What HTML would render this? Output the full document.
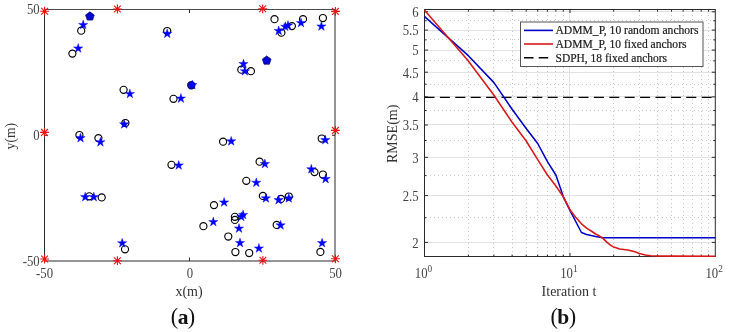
<!DOCTYPE html><html><head><meta charset="utf-8"><style>
html,body{margin:0;padding:0;background:#fff;}
body{width:729px;height:332px;overflow:hidden;}
svg{display:block;will-change:transform;}
text{font-family:"Liberation Serif",serif;fill:#333;}
</style></head><body>
<svg width="729" height="332" viewBox="0 0 729 332">
<rect width="729" height="332" fill="#fff"/>
<path d="M44.5,261.0V9.5" stroke="#2a2a2a" stroke-width="1" fill="none"/>
<path d="M44.0,9.5H335.5" stroke="#4a4a4a" stroke-width="1" fill="none"/>
<path d="M335.0,9.5V261.0" stroke="#2a2a2a" stroke-width="1" fill="none"/>
<path d="M44.0,261.0H335.5" stroke="#2a2a2a" stroke-width="1" fill="none"/>
<path d="M189.5,261.0v-3.5M189.5,9.5v3.5M44.5,135.3h3M335.0,135.3h-3" stroke="#2a2a2a" stroke-width="1" fill="none"/>
<circle cx="191.3" cy="85.3" r="3.6" fill="#1818c0" stroke="#0a0a50" stroke-width="1.2"/>
<g fill="none" stroke="#000" stroke-width="1.15"><circle cx="81.2" cy="30.7" r="3.55"/><circle cx="72.4" cy="53.6" r="3.55"/><circle cx="167.2" cy="31" r="3.55"/><circle cx="123.6" cy="89.8" r="3.55"/><circle cx="125.4" cy="123.0" r="3.55"/><circle cx="79.4" cy="135" r="3.55"/><circle cx="98.4" cy="138.1" r="3.55"/><circle cx="173.5" cy="98.8" r="3.55"/><circle cx="274.5" cy="19.2" r="3.55"/><circle cx="303" cy="19.2" r="3.55"/><circle cx="322.9" cy="18" r="3.55"/><circle cx="291.9" cy="26.1" r="3.55"/><circle cx="281.4" cy="32.7" r="3.55"/><circle cx="250.9" cy="71.2" r="3.55"/><circle cx="241.3" cy="69.7" r="3.55"/><circle cx="223.1" cy="141.7" r="3.55"/><circle cx="171.5" cy="164.8" r="3.55"/><circle cx="321.7" cy="138.5" r="3.55"/><circle cx="259.6" cy="161.7" r="3.55"/><circle cx="314.5" cy="172.1" r="3.55"/><circle cx="322.9" cy="174.5" r="3.55"/><circle cx="89.3" cy="196.3" r="3.55"/><circle cx="101.7" cy="197.4" r="3.55"/><circle cx="125" cy="249.3" r="3.55"/><circle cx="214" cy="205.1" r="3.55"/><circle cx="203.4" cy="226.2" r="3.55"/><circle cx="234.9" cy="216.8" r="3.55"/><circle cx="234.9" cy="219.9" r="3.55"/><circle cx="228.3" cy="236.5" r="3.55"/><circle cx="235.4" cy="252" r="3.55"/><circle cx="249.2" cy="253" r="3.55"/><circle cx="246.3" cy="180.8" r="3.55"/><circle cx="262.9" cy="195.9" r="3.55"/><circle cx="281" cy="198.9" r="3.55"/><circle cx="288.8" cy="196.5" r="3.55"/><circle cx="276.7" cy="224.9" r="3.55"/><circle cx="320.4" cy="251.9" r="3.55"/></g>
<path d="M89.90,11.80L94.27,14.98L92.60,20.12L87.20,20.12L85.53,14.98ZM266.70,55.90L271.07,59.08L269.40,64.22L264.00,64.22L262.33,59.08Z" fill="#0a0aa8" stroke="#080880" stroke-width="0.7"/>
<path d="M89.90,11.90L90.91,15.01L94.18,15.01L91.53,16.93L92.55,20.04L89.90,18.12L87.25,20.04L88.27,16.93L85.62,15.01L88.89,15.01ZM266.70,56.00L267.71,59.11L270.98,59.11L268.33,61.03L269.35,64.14L266.70,62.22L264.05,64.14L265.07,61.03L262.42,59.11L265.69,59.11Z" fill="#0000e6"/>
<path d="M83.20,20.00L84.30,23.39L87.86,23.39L84.98,25.48L86.08,28.86L83.20,26.77L80.32,28.86L81.42,25.48L78.54,23.39L82.10,23.39ZM78.20,43.50L79.30,46.89L82.86,46.89L79.98,48.98L81.08,52.36L78.20,50.27L75.32,52.36L76.42,48.98L73.54,46.89L77.10,46.89ZM167.20,28.80L168.30,32.19L171.86,32.19L168.98,34.28L170.08,37.66L167.20,35.57L164.32,37.66L165.42,34.28L162.54,32.19L166.10,32.19ZM129.90,89.00L131.00,92.39L134.56,92.39L131.68,94.48L132.78,97.86L129.90,95.77L127.02,97.86L128.12,94.48L125.24,92.39L128.80,92.39ZM124.20,119.40L125.30,122.79L128.86,122.79L125.98,124.88L127.08,128.26L124.20,126.17L121.32,128.26L122.42,124.88L119.54,122.79L123.10,122.79ZM80.50,133.20L81.60,136.59L85.16,136.59L82.28,138.68L83.38,142.06L80.50,139.97L77.62,142.06L78.72,138.68L75.84,136.59L79.40,136.59ZM100.40,137.30L101.50,140.69L105.06,140.69L102.18,142.78L103.28,146.16L100.40,144.07L97.52,146.16L98.62,142.78L95.74,140.69L99.30,140.69ZM180.90,93.60L182.00,96.99L185.56,96.99L182.68,99.08L183.78,102.46L180.90,100.37L178.02,102.46L179.12,99.08L176.24,96.99L179.80,96.99ZM192.30,80.20L193.40,83.59L196.96,83.59L194.08,85.68L195.18,89.06L192.30,86.97L189.42,89.06L190.52,85.68L187.64,83.59L191.20,83.59ZM321.40,21.50L322.50,24.89L326.06,24.89L323.18,26.98L324.28,30.36L321.40,28.27L318.52,30.36L319.62,26.98L316.74,24.89L320.30,24.89ZM301.00,18.10L302.10,21.49L305.66,21.49L302.78,23.58L303.88,26.96L301.00,24.87L298.12,26.96L299.22,23.58L296.34,21.49L299.90,21.49ZM288.00,20.60L289.10,23.99L292.66,23.99L289.78,26.08L290.88,29.46L288.00,27.37L285.12,29.46L286.22,26.08L283.34,23.99L286.90,23.99ZM285.30,21.80L286.40,25.19L289.96,25.19L287.08,27.28L288.18,30.66L285.30,28.57L282.42,30.66L283.52,27.28L280.64,25.19L284.20,25.19ZM278.70,26.00L279.80,29.39L283.36,29.39L280.48,31.48L281.58,34.86L278.70,32.77L275.82,34.86L276.92,31.48L274.04,29.39L277.60,29.39ZM243.50,59.10L244.60,62.49L248.16,62.49L245.28,64.58L246.38,67.96L243.50,65.87L240.62,67.96L241.72,64.58L238.84,62.49L242.40,62.49ZM244.90,66.30L246.00,69.69L249.56,69.69L246.68,71.78L247.78,75.16L244.90,73.07L242.02,75.16L243.12,71.78L240.24,69.69L243.80,69.69ZM231.20,136.40L232.30,139.79L235.86,139.79L232.98,141.88L234.08,145.26L231.20,143.17L228.32,145.26L229.42,141.88L226.54,139.79L230.10,139.79ZM178.70,160.50L179.80,163.89L183.36,163.89L180.48,165.98L181.58,169.36L178.70,167.27L175.82,169.36L176.92,165.98L174.04,163.89L177.60,163.89ZM325.30,135.20L326.40,138.59L329.96,138.59L327.08,140.68L328.18,144.06L325.30,141.97L322.42,144.06L323.52,140.68L320.64,138.59L324.20,138.59ZM264.90,159.10L266.00,162.49L269.56,162.49L266.68,164.58L267.78,167.96L264.90,165.87L262.02,167.96L263.12,164.58L260.24,162.49L263.80,162.49ZM311.30,164.30L312.40,167.69L315.96,167.69L313.08,169.78L314.18,173.16L311.30,171.07L308.42,173.16L309.52,169.78L306.64,167.69L310.20,167.69ZM325.60,174.10L326.70,177.49L330.26,177.49L327.38,179.58L328.48,182.96L325.60,180.87L322.72,182.96L323.82,179.58L320.94,177.49L324.50,177.49ZM85.20,192.20L86.30,195.59L89.86,195.59L86.98,197.68L88.08,201.06L85.20,198.97L82.32,201.06L83.42,197.68L80.54,195.59L84.10,195.59ZM93.80,192.20L94.90,195.59L98.46,195.59L95.58,197.68L96.68,201.06L93.80,198.97L90.92,201.06L92.02,197.68L89.14,195.59L92.70,195.59ZM122.20,238.30L123.30,241.69L126.86,241.69L123.98,243.78L125.08,247.16L122.20,245.07L119.32,247.16L120.42,243.78L117.54,241.69L121.10,241.69ZM224.10,197.50L225.20,200.89L228.76,200.89L225.88,202.98L226.98,206.36L224.10,204.27L221.22,206.36L222.32,202.98L219.44,200.89L223.00,200.89ZM213.30,217.10L214.40,220.49L217.96,220.49L215.08,222.58L216.18,225.96L213.30,223.87L210.42,225.96L211.52,222.58L208.64,220.49L212.20,220.49ZM243.10,210.00L244.20,213.39L247.76,213.39L244.88,215.48L245.98,218.86L243.10,216.77L240.22,218.86L241.32,215.48L238.44,213.39L242.00,213.39ZM241.30,211.90L242.40,215.29L245.96,215.29L243.08,217.38L244.18,220.76L241.30,218.67L238.42,220.76L239.52,217.38L236.64,215.29L240.20,215.29ZM239.00,223.60L240.10,226.99L243.66,226.99L240.78,229.08L241.88,232.46L239.00,230.37L236.12,232.46L237.22,229.08L234.34,226.99L237.90,226.99ZM240.00,238.10L241.10,241.49L244.66,241.49L241.78,243.58L242.88,246.96L240.00,244.87L237.12,246.96L238.22,243.58L235.34,241.49L238.90,241.49ZM256.30,177.80L257.40,181.19L260.96,181.19L258.08,183.28L259.18,186.66L256.30,184.57L253.42,186.66L254.52,183.28L251.64,181.19L255.20,181.19ZM265.90,193.40L267.00,196.79L270.56,196.79L267.68,198.88L268.78,202.26L265.90,200.17L263.02,202.26L264.12,198.88L261.24,196.79L264.80,196.79ZM278.60,195.20L279.70,198.59L283.26,198.59L280.38,200.68L281.48,204.06L278.60,201.97L275.72,204.06L276.82,200.68L273.94,198.59L277.50,198.59ZM288.80,193.40L289.90,196.79L293.46,196.79L290.58,198.88L291.68,202.26L288.80,200.17L285.92,202.26L287.02,198.88L284.14,196.79L287.70,196.79ZM280.60,220.40L281.70,223.79L285.26,223.79L282.38,225.88L283.48,229.26L280.60,227.17L277.72,229.26L278.82,225.88L275.94,223.79L279.50,223.79ZM258.90,243.50L260.00,246.89L263.56,246.89L260.68,248.98L261.78,252.36L258.90,250.27L256.02,252.36L257.12,248.98L254.24,246.89L257.80,246.89ZM322.10,238.20L323.20,241.59L326.76,241.59L323.88,243.68L324.98,247.06L322.10,244.97L319.22,247.06L320.32,243.68L317.44,241.59L321.00,241.59Z" fill="#0000ff" stroke="#0000ff" stroke-width="0.4" stroke-linejoin="miter"/>
<path d="M40.20,11.20H49.00M44.60,6.80V15.60M41.20,7.80L48.00,14.60M41.20,14.60L48.00,7.80M113.00,9.00H121.80M117.40,4.60V13.40M114.00,5.60L120.80,12.40M114.00,12.40L120.80,5.60M258.30,8.80H267.10M262.70,4.40V13.20M259.30,5.40L266.10,12.20M259.30,12.20L266.10,5.40M331.00,11.40H339.80M335.40,7.00V15.80M332.00,8.00L338.80,14.80M332.00,14.80L338.80,8.00M40.10,132.40H48.90M44.50,128.00V136.80M41.10,129.00L47.90,135.80M41.10,135.80L47.90,129.00M331.00,130.40H339.80M335.40,126.00V134.80M332.00,127.00L338.80,133.80M332.00,133.80L338.80,127.00M40.20,259.00H49.00M44.60,254.60V263.40M41.20,255.60L48.00,262.40M41.20,262.40L48.00,255.60M113.00,260.70H121.80M117.40,256.30V265.10M114.00,257.30L120.80,264.10M114.00,264.10L120.80,257.30M258.50,260.30H267.30M262.90,255.90V264.70M259.50,256.90L266.30,263.70M259.50,263.70L266.30,256.90M331.00,258.80H339.80M335.40,254.40V263.20M332.00,255.40L338.80,262.20M332.00,262.20L338.80,255.40" fill="none" stroke="#f01010" stroke-width="1.1"/>
<text transform="translate(39.60,14.40) scale(0.95,1.05)" font-size="13.4" text-anchor="end" style="fill:#444">50</text>
<text transform="translate(39.60,140.00) scale(0.95,1.05)" font-size="13.4" text-anchor="end" style="fill:#444">0</text>
<text transform="translate(39.60,266.00) scale(0.95,1.05)" font-size="13.4" text-anchor="end" style="fill:#444">-50</text>
<text transform="translate(44.60,278.00) scale(0.95,1.05)" font-size="13.4" text-anchor="middle" style="fill:#444">-50</text>
<text transform="translate(190.00,278.00) scale(0.95,1.05)" font-size="13.4" text-anchor="middle" style="fill:#444">0</text>
<text transform="translate(335.60,278.00) scale(0.95,1.05)" font-size="13.4" text-anchor="middle" style="fill:#444">50</text>
<text x="189" y="296" font-size="14" text-anchor="middle">x(m)</text>
<text transform="translate(15.4,136.2) rotate(-90)" font-size="13.6" text-anchor="middle">y(m)</text>
<text x="183" y="324" font-size="22.2" text-anchor="middle" style="fill:#111">(<tspan font-weight="bold" font-size="21.5" dx="-0.6">a</tspan><tspan dx="-0.6">)</tspan></text>
<path d="M425.0,11.5H714.8M425.0,30.5H714.8M425.0,50.5H714.8M425.0,72.5H714.8M425.0,96.5H714.8M425.0,124.5H714.8M425.0,157.5H714.8M425.0,195.5H714.8M425.0,242.5H714.8M569.5,10.0V256.0" stroke="#e2e2e2" stroke-width="1" fill="none"/>
<path d="M426.0,20.5H714.8M426.0,39.5H714.8M426.0,60.5H714.8M426.0,84.5H714.8M426.0,110.5H714.8M426.0,140.5H714.8M426.0,175.5H714.8M426.0,217.5H714.8M468.5,11.0V256.0M493.5,11.0V256.0M512.5,11.0V256.0M526.5,11.0V256.0M537.5,11.0V256.0M547.5,11.0V256.0M555.5,11.0V256.0M563.5,11.0V256.0M613.5,11.0V256.0M639.5,11.0V256.0M657.5,11.0V256.0M671.5,11.0V256.0M683.5,11.0V256.0M692.5,11.0V256.0M701.5,11.0V256.0M708.5,11.0V256.0" stroke="#c8c8c8" stroke-width="1" stroke-dasharray="1 3" fill="none"/>
<path d="M424.5,256.5V9.5" stroke="#2a2a2a" stroke-width="1" fill="none"/>
<path d="M424.0,9.5H715.8" stroke="#2a2a2a" stroke-width="1" fill="none"/>
<path d="M715.3,9.5V256.5" stroke="#2a2a2a" stroke-width="1" fill="none"/>
<path d="M424.0,256.5H715.8" stroke="#2a2a2a" stroke-width="1" fill="none"/>
<path d="M424.5,11.8h3.5M715.3,11.8h-3.5M424.5,30.1h3.5M715.3,30.1h-3.5M424.5,50.1h3.5M715.3,50.1h-3.5M424.5,72.2h3.5M715.3,72.2h-3.5M424.5,96.9h3.5M715.3,96.9h-3.5M424.5,125.0h3.5M715.3,125.0h-3.5M424.5,157.3h3.5M715.3,157.3h-3.5M424.5,195.6h3.5M715.3,195.6h-3.5M424.5,242.4h3.5M715.3,242.4h-3.5M424.5,20.8h2M715.3,20.8h-2M424.5,39.9h2M715.3,39.9h-2M424.5,60.9h2M715.3,60.9h-2M424.5,84.2h2M715.3,84.2h-2M424.5,110.5h2M715.3,110.5h-2M424.5,140.5h2M715.3,140.5h-2M424.5,175.6h2M715.3,175.6h-2M424.5,217.7h2M715.3,217.7h-2M468.4,256.5v-2M468.4,9.5v2M493.9,256.5v-2M493.9,9.5v2M512.1,256.5v-2M512.1,9.5v2M526.2,256.5v-2M526.2,9.5v2M537.7,256.5v-2M537.7,9.5v2M547.4,256.5v-2M547.4,9.5v2M555.9,256.5v-2M555.9,9.5v2M563.3,256.5v-2M563.3,9.5v2M613.7,256.5v-2M613.7,9.5v2M639.3,256.5v-2M639.3,9.5v2M657.5,256.5v-2M657.5,9.5v2M671.5,256.5v-2M671.5,9.5v2M683.1,256.5v-2M683.1,9.5v2M692.8,256.5v-2M692.8,9.5v2M701.2,256.5v-2M701.2,9.5v2M708.6,256.5v-2M708.6,9.5v2M570.0,256.5v-3.5M570.0,9.5v3.5" stroke="#2a2a2a" stroke-width="1" fill="none"/>
<path d="M424.5,97.4H715.3" stroke="#000" stroke-width="1.4" stroke-dasharray="10 5.4" fill="none"/>
<path d="M424.60,16.60L468.35,55.70L493.95,82.60L512.11,109.30L526.20,128.50L537.70,143.50L547.44,161.70L555.86,175.00L563.30,196.60L569.95,210.30L575.97,222.00L581.46,232.50L586.51,234.40L591.19,235.60L595.54,236.60L599.62,237.30L603.45,237.70L715.30,237.70" stroke="#0000c8" stroke-width="1.55" fill="none" stroke-linejoin="round"/>
<path d="M424.60,10.30L468.35,61.00L493.95,95.30L512.11,122.30L526.20,141.00L537.70,159.60L547.44,175.00L555.86,186.00L563.30,196.80L569.95,209.80L575.97,217.60L581.46,223.80L586.51,228.20L591.19,231.00L595.54,234.00L599.62,236.00L603.45,238.90L607.05,242.40L610.47,245.20L613.70,247.10L619.72,249.00L627.79,250.00L634.94,251.80L639.30,253.50L645.32,255.10L650.81,255.80L657.46,256.00L671.55,256.10L715.30,256.20" stroke="#d81818" stroke-width="1.55" fill="none" stroke-linejoin="round"/>
<rect x="520.5" y="22.0" width="182.5" height="44.5" fill="#fff" stroke="#555" stroke-width="1"/>
<path d="M524,30.4H553" stroke="#0000c8" stroke-width="1.6"/>
<path d="M524,44H553" stroke="#d81818" stroke-width="1.6"/>
<path d="M524,57.7H553" stroke="#000" stroke-width="1.4" stroke-dasharray="9.5 5.2"/>
<text x="555.5" y="34.2" style="fill:#1a1a1a;stroke:#1a1a1a;stroke-width:0.2" font-size="12.0" textLength="143" lengthAdjust="spacingAndGlyphs">ADMM_P, 10 random anchors</text>
<text x="555.5" y="48.2" style="fill:#1a1a1a;stroke:#1a1a1a;stroke-width:0.2" font-size="12.0" textLength="131" lengthAdjust="spacingAndGlyphs">ADMM_P, 10 fixed anchors</text>
<text x="555.5" y="62.1" style="fill:#1a1a1a;stroke:#1a1a1a;stroke-width:0.2" font-size="12.0" textLength="111.5" lengthAdjust="spacingAndGlyphs">SDPH, 18 fixed anchors</text>
<text transform="translate(418.60,17.12) scale(0.95,1.05)" font-size="13.4" text-anchor="end" style="fill:#444">6</text>
<text transform="translate(418.60,35.39) scale(0.95,1.05)" font-size="13.4" text-anchor="end" style="fill:#444">5.5</text>
<text transform="translate(418.60,55.39) scale(0.95,1.05)" font-size="13.4" text-anchor="end" style="fill:#444">5</text>
<text transform="translate(418.60,77.51) scale(0.95,1.05)" font-size="13.4" text-anchor="end" style="fill:#444">4.5</text>
<text transform="translate(418.60,102.23) scale(0.95,1.05)" font-size="13.4" text-anchor="end" style="fill:#444">4</text>
<text transform="translate(418.60,130.26) scale(0.95,1.05)" font-size="13.4" text-anchor="end" style="fill:#444">3.5</text>
<text transform="translate(418.60,162.61) scale(0.95,1.05)" font-size="13.4" text-anchor="end" style="fill:#444">3</text>
<text transform="translate(418.60,200.88) scale(0.95,1.05)" font-size="13.4" text-anchor="end" style="fill:#444">2.5</text>
<text transform="translate(418.60,247.72) scale(0.95,1.05)" font-size="13.4" text-anchor="end" style="fill:#444">2</text>
<text transform="translate(427.50,278.00) scale(0.95,1.05)" font-size="13.4" text-anchor="end" style="fill:#444">10</text>
<text transform="translate(427.60,271.60) scale(0.95,1.05)" font-size="9.8" text-anchor="start" style="fill:#444">0</text>
<text transform="translate(572.85,278.00) scale(0.95,1.05)" font-size="13.4" text-anchor="end" style="fill:#444">10</text>
<text transform="translate(572.95,271.60) scale(0.95,1.05)" font-size="9.8" text-anchor="start" style="fill:#444">1</text>
<text transform="translate(718.20,278.00) scale(0.95,1.05)" font-size="13.4" text-anchor="end" style="fill:#444">10</text>
<text transform="translate(718.30,271.60) scale(0.95,1.05)" font-size="9.8" text-anchor="start" style="fill:#444">2</text>
<text x="569" y="295.6" font-size="14" text-anchor="middle">Iteration t</text>
<text transform="translate(397.2,133.8) rotate(-90)" font-size="14" text-anchor="middle">RMSE(m)</text>
<text x="563.3" y="324" font-size="22.2" text-anchor="middle" style="fill:#111">(<tspan font-weight="bold" font-size="21.5" dx="-0.6">b</tspan><tspan dx="-0.6">)</tspan></text>
</svg></body></html>
